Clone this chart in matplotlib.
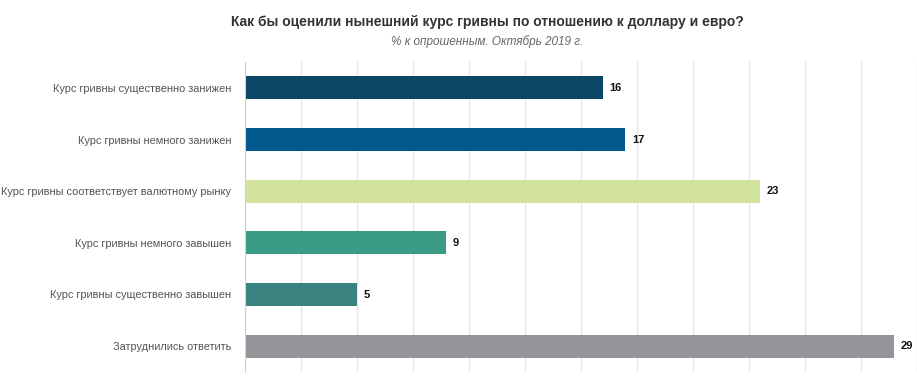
import matplotlib
matplotlib.use("Agg")
import matplotlib.pyplot as plt
import numpy as np

categories = [
    "Курс гривны существенно занижен",
    "Курс гривны немного занижен",
    "Курс гривны соответствует валютному рынку",
    "Курс гривны немного завышен",
    "Курс гривны существенно завышен",
    "Затруднились ответить",
]
values = [16, 17, 23, 9, 5, 29]
colors = ["#0c4667", "#00588d", "#d0e29c", "#3a9c85", "#3b837f", "#949599"]

plt.rcParams['font.family'] = ['Liberation Sans', 'DejaVu Sans']

fig = plt.figure(figsize=(9.17, 3.77), dpi=100)
ax = fig.add_axes([244.5 / 917, 5 / 377, 672 / 917, 310 / 377])

y = np.arange(len(categories))
ax.barh(y, values, height=0.44, color=colors, zorder=2)
for yi, v in zip(y, values):
    ax.text(v + 0.3, yi, str(v), va="center", ha="left", fontsize=8,
            fontweight="bold", color="#111111")

ax.set_xlim(0, 30)
ax.set_ylim(len(categories) - 0.5, -0.5)
ax.set_xticks(np.arange(0, 30.1, 2.5))
ax.set_xticklabels([])
ax.tick_params(axis="x", length=0)
ax.tick_params(axis="y", length=0, pad=9.5, labelsize=7.9, labelcolor="#555555")
ax.set_yticks(y)
ax.set_yticklabels(categories)
ax.grid(axis="x", color="#e6e6e6", linewidth=1, zorder=0)
for s in ["top", "right", "bottom"]:
    ax.spines[s].set_visible(False)
ax.spines["left"].set_color("#c8d3e0")

fig.text(487 / 917, 1 - 22 / 377, "Как бы оценили нынешний курс гривны по отношению к доллару и евро?",
         ha="center", va="center", fontsize=10, fontweight="bold", color="#333333")
fig.text(487 / 917, 1 - 42 / 377, "% к опрошенным. Октябрь 2019 г.",
         ha="center", va="center", fontsize=8.5, style="italic", color="#666666")

plt.savefig("out.png", format="png")
